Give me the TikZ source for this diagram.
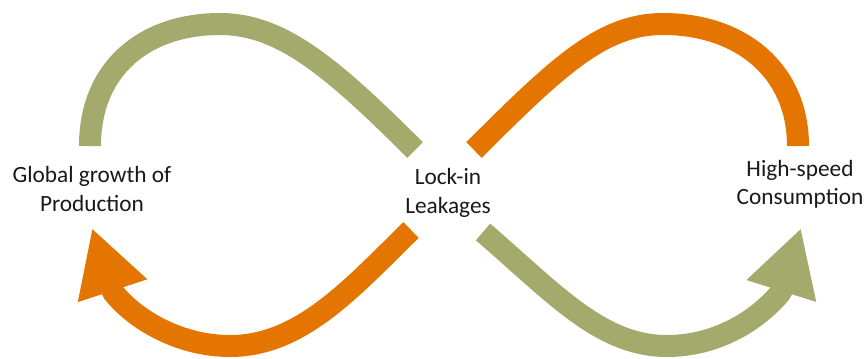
\documentclass[tikz,border=0pt]{standalone}
\usepackage{fontspec}
\setmainfont{Carlito}
\usetikzlibrary{arrows.meta}
\definecolor{olivegreen}{RGB}{164,169,108}
\definecolor{darkorange}{RGB}{228,117,0}
\begin{document}
\begin{tikzpicture}
[x=1bp,y=-1bp,
  labeldecorate/.style={align=center,inner sep=0pt,text=black!90,%
    font=\fontsize{23.4}{28.5}\selectfont},%
  greendecorate/.style={draw=olivegreen,line width=22bp,line cap=butt,line join=round},%
  orangedecorate/.style={draw=darkorange,line width=22bp,line cap=butt,line join=round},%
  headdecorate/.style={-{Triangle[length=66bp,width=68bp]}}]
\useasboundingbox (0,0) rectangle (866,358);
%% labels
\foreach \nodename/\x/\y/\nodetext in {
  prod/92/189/Global growth of\\Production,
  lock/448/193/Lock-in\\Leakages,
  cons/800/184/High-speed\\Consumption}
{
  \node (\nodename) at (\x,\y) [labeldecorate] {\nodetext};
}
%% end points of the loops
\foreach \pointname/\x/\y in {
  prod-top/90/146, prod-tip/92/228, lock-nw/415/150, lock-ne/474/150,
  lock-sw/411/230, lock-se/483/232, cons-top/798/146, cons-tip/801/228}
{
  \coordinate (\pointname) at (\x,\y);
}
%% loops
\draw[greendecorate] (prod-top) .. controls (90,68) and (145,24) .. (220,24)
  .. controls (280,24) and (330,65) .. (lock-nw);
\draw[orangedecorate] (lock-ne) .. controls (559,65) and (603,24) .. (663,24)
  .. controls (740,24) and (798,70) .. (cons-top);
\draw[orangedecorate,headdecorate] (lock-sw) .. controls (350,290) and (300,346) .. (230,346)
  .. controls (180,346) and (135,320) .. (113,292) -- (prod-tip);
\draw[greendecorate,headdecorate] (lock-se) .. controls (553,292) and (600,346) .. (667,346)
  .. controls (717,346) and (758,320) .. (781,292) -- (cons-tip);
\end{tikzpicture}
\end{document}
